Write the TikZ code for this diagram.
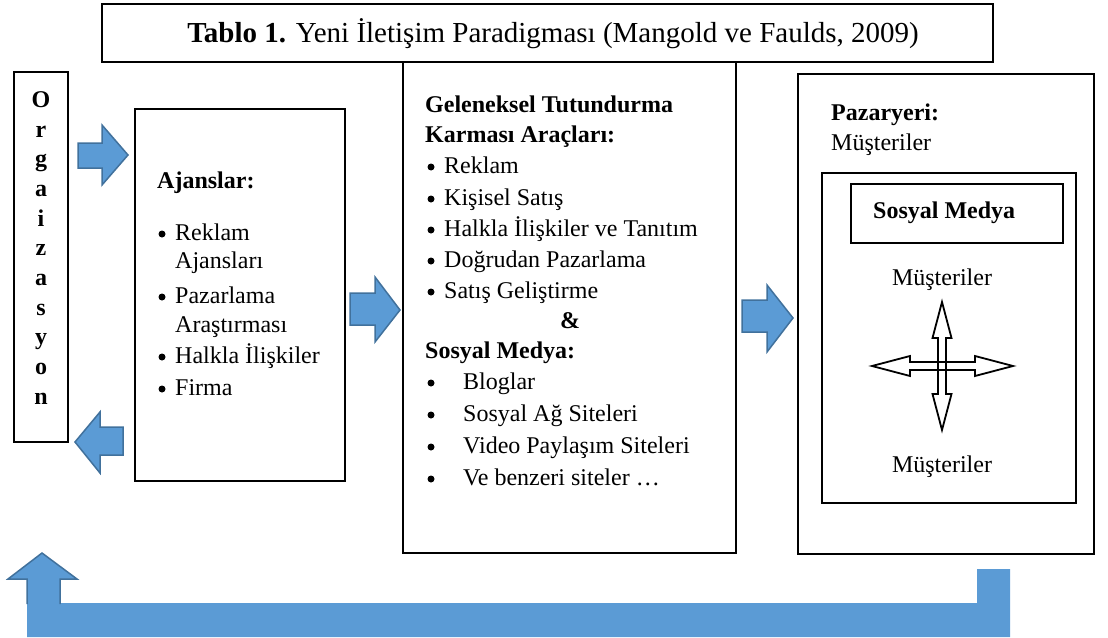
\documentclass[tikz,border=0pt]{standalone}
\usepackage{fontspec}
\setmainfont{Liberation Serif}
\definecolor{arrowfill}{HTML}{5B9BD5}
\definecolor{arrowline}{HTML}{41719C}
\begin{document}
\begin{tikzpicture}[x=1pt,y=-1pt,
  box/.style={draw, line width=1.6pt, inner sep=0pt, outer sep=0pt, anchor=north west, rectangle},
  txt/.style={anchor=base west, inner sep=0pt, font=\fontsize{24}{28}\selectfont},
  btxt/.style={anchor=base west, inner sep=0pt, font=\fontsize{24}{28}\selectfont\bfseries},
  ctxt/.style={anchor=base, inner sep=0pt, font=\fontsize{24}{28}\selectfont},
  bctxt/.style={anchor=base, inner sep=0pt, font=\fontsize{24}{28}\selectfont\bfseries},
  bul/.style={circle, fill=black, inner sep=0pt, minimum size=7pt},
  blockarrow/.style={fill=arrowfill, draw=arrowline, line width=1.5pt, line join=miter},
  quad/.style={draw=black, line width=1.8pt, line join=miter}]
\useasboundingbox (0,0) rectangle (1108,637);

% boxes
\node[box, minimum width=891pt, minimum height=58pt] (title) at (102,4) {};
\node[box, minimum width=54pt, minimum height=370pt] (org) at (14,72) {};
\node[box, minimum width=210pt, minimum height=372pt] (ajans) at (135,109) {};
\node[box, minimum width=333pt, minimum height=491pt] (mid) at (403,62) {};
\node[box, minimum width=296pt, minimum height=480pt] (pazar) at (798,74) {};
\node[box, minimum width=254pt, minimum height=330pt] (inner) at (822,173) {};
\node[box, minimum width=212pt, minimum height=59pt] (sm) at (851,184) {};

% title
\node[inner sep=0pt, anchor=base, font=\fontsize{29}{32}\selectfont] (titletext) at (553,42)
  {\textbf{Tablo 1.} Yeni İletişim Paradigması (Mangold ve Faulds, 2009)};

% Organizasyon
\foreach \l/\y [count=\i] in {O/107,r/137,g/166,a/196,i/226,z/255,a/285,s/315,y/344,o/374,n/404}
  \node[bctxt] (org\i) at (41,\y) {\l};

% Ajanslar
\node[btxt] (ajt) at (157,188) {Ajanslar:};
\node[bul] (ab1) at (162,234) {};
\node[txt] (a1) at (175,240) {Reklam};
\node[txt] (a1b) at (175,268) {Ajansları};
\node[bul] (ab2) at (162,297) {};
\node[txt] (a2) at (175,303) {Pazarlama};
\node[txt] (a2b) at (175,332) {Araştırması};
\node[bul] (ab3) at (162,357) {};
\node[txt] (a3) at (175,363) {Halkla İlişkiler};
\node[bul] (ab4) at (162,389) {};
\node[txt] (a4) at (175,395) {Firma};

% middle
\node[btxt] (m1) at (425,112) {Geleneksel Tutundurma};
\node[btxt] (m2) at (425,142) {Karması Araçları:};
\foreach \t/\y [count=\i] in {Reklam/173,Kişisel Satış/205,Halkla İlişkiler ve Tanıtım/236,Doğrudan Pazarlama/267,Satış Geliştirme/298}{
  \node[bul] (mb\i) at (431,\y-6) {};
  \node[txt] (mt\i) at (444,\y) {\t};
}
\node[bctxt] (amp) at (570,328) {\&};
\node[btxt] (m3) at (425,358) {Sosyal Medya:};
\foreach \t/\y [count=\i] in {Bloglar/389,Sosyal Ağ Siteleri/421,Video Paylaşım Siteleri/453,Ve benzeri siteler …/485}{
  \node[bul] (sb\i) at (431,\y-6) {};
  \node[txt] (st\i) at (463,\y) {\t};
}

% right
\node[btxt] (p1) at (831,120) {Pazaryeri:};
\node[txt] (p2) at (831,150) {Müşteriler};
\node[btxt] (smt) at (873,218) {Sosyal Medya};
\node[ctxt] (mu1) at (942,285) {Müşteriler};
\node[ctxt] (mu2) at (942,472) {Müşteriler};

% quad arrow
\coordinate (qc) at (942,366);
\draw[quad] (872,366) -- (910,356) -- (910,362) -- (975,362) -- (975,356) -- (1013,366)
  -- (975,376) -- (975,370) -- (910,370) -- (910,376) -- cycle;
\draw[quad] (942,302) -- (951.5,338) -- (946,338) -- (946,394) -- (951.5,394) -- (942,430)
  -- (932.5,394) -- (938,394) -- (938,338) -- (932.5,338) -- cycle;

% block arrows
\draw[blockarrow] (78,143) -- (102,143) -- (102,125) -- (128,155) -- (102,185) -- (102,168) -- (78,168) -- cycle;
\draw[blockarrow] (123,427) -- (100,427) -- (100,412) -- (75,442) -- (100,473) -- (100,455) -- (123,455) -- cycle;
\draw[blockarrow] (350,293) -- (375,293) -- (375,277) -- (400,310) -- (375,342) -- (375,325) -- (350,325) -- cycle;
\draw[blockarrow] (742,300) -- (767,300) -- (767,285) -- (793,318) -- (767,352) -- (767,332) -- (742,332) -- cycle;

% bottom feedback arrow
\fill[arrowfill] (42,553) -- (77,579) -- (60,579) -- (60,603) -- (977,603) -- (977,569) -- (1010,569)
  -- (1010,637) -- (27,637) -- (27,579) -- (8,579) -- cycle;
\draw[draw=arrowline, line width=1.5pt, line join=miter] (27,604) -- (27,579) -- (8,579) -- (42,553) -- (77,579) -- (60,579) -- (60,604);
\end{tikzpicture}
\end{document}
